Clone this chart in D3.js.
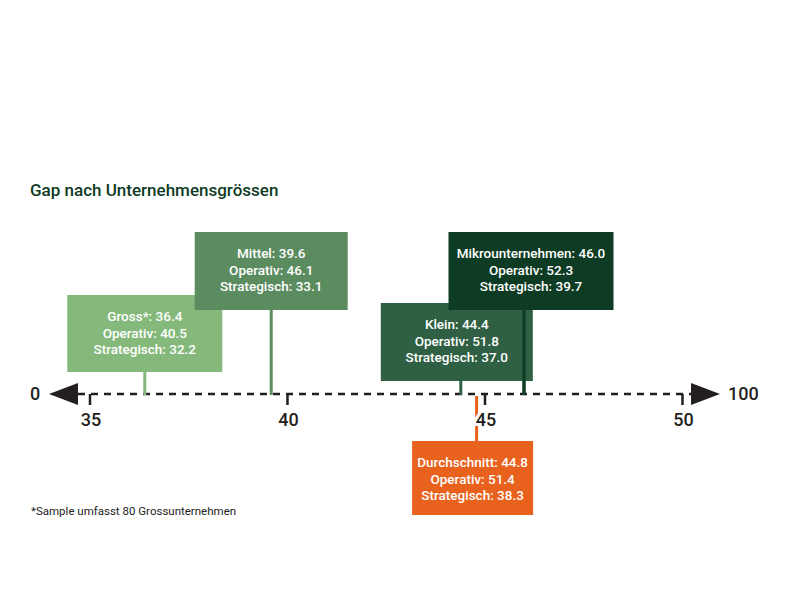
<!DOCTYPE html>
<html>
<head>
<meta charset="utf-8">
<script src="https://cdn.jsdelivr.net/npm/d3@7"></script>
<style>
  body { margin: 0; background: #fff; }
  svg { display: block; font-family: Roboto, "Liberation Sans", sans-serif; }
</style>
</head>
<body>
<div id="chart"></div>
<script>
// values
var groups = ["Gross*", "Mittel", "Klein", "Mikrounternehmen", "Durchschnitt"];
var gapValues = [36.4, 39.6, 44.4, 46.0, 44.8];
var operativValues = [40.5, 46.1, 51.8, 52.3, 51.4];
var strategischValues = [32.2, 33.1, 37.0, 39.7, 38.3];
var tickValues = [35, 40, 45, 50];
var endLabels = ["0", "100"];

// box placement (top, width, height, shift from the marker), colours
var boxLayout = [
    {top: 295, w: 155, h: 77, dx: 0, color: "#84b97b"},
    {top: 232, w: 153, h: 78, dx: 0, color: "#5b8c5f"},
    {top: 303, w: 152, h: 78, dx: -4, color: "#2f6044"},
    {top: 232, w: 165, h: 78, dx: 7, color: "#0d3b23"},
    {top: 441, w: 121, h: 74, dx: -4, color: "#e8611d"}
];

var width = 790, height = 593;
var axisY = 394;

var svg = d3.select("#chart").append("svg")
    .attr("width", width)
    .attr("height", height);

var x = d3.scaleLinear().domain([35, 50]).range([89.5, 682]);

// title
svg.append("text")
    .attr("x", 30)
    .attr("y", 196)
    .attr("fill", "#0d3b23")
    .style("font-size", "17px")
    .style("font-weight", 500)
    .text("Gap nach Unternehmensgrössen");

// footnote
svg.append("text")
    .attr("x", 31)
    .attr("y", 515)
    .attr("fill", "#222")
    .style("font-size", "11.5px")
    .text("*Sample umfasst 80 Grossunternehmen");

var rows = groups.map(function(g, i){
    return {
        name: g,
        gap: gapValues[i],
        op: operativValues[i],
        st: strategischValues[i],
        lay: boxLayout[i]
    };
});

// dashed axis line
svg.append("line")
    .attr("x1", 78)
    .attr("x2", 691)
    .attr("y1", axisY)
    .attr("y2", axisY)
    .attr("stroke", "#231f20")
    .attr("stroke-width", 2.5)
    .attr("stroke-dasharray", "7,6");

// axis ticks + labels
var axis = svg.append("g")
    .attr("transform", "translate(0," + axisY + ")")
    .call(d3.axisBottom(x).tickValues(tickValues).tickSize(11).tickPadding(8));

axis.select(".domain").remove();
axis.selectAll(".tick line")
    .attr("stroke", "#231f20")
    .attr("stroke-width", 2.5);
axis.selectAll(".tick text")
    .attr("fill", "#231f20")
    .attr("dy", "0.71em")
    .attr("x", 1)
    .style("font-family", "Roboto, sans-serif")
    .style("font-size", "18px")
    .style("font-weight", 500);

// stems
var stems = svg.append("g");
stems.selectAll("line")
    .data(rows)
    .enter().append("line")
    .attr("x1", function(d){ return x(d.gap); })
    .attr("x2", function(d){ return x(d.gap); })
    .attr("y1", function(d){ return d.lay.top > axisY ? axisY + 2 : d.lay.top + d.lay.h; })
    .attr("y2", function(d){ return d.lay.top > axisY ? d.lay.top : axisY + 1; })
    .attr("stroke", function(d){ return d.lay.color; })
    .attr("stroke-width", 3);

var boxes = svg.append("g").selectAll("g")
    .data(rows)
    .enter().append("g")
    .attr("transform", function(d){
        return "translate(" + (x(d.gap) + d.lay.dx - d.lay.w / 2) + "," + d.lay.top + ")";
    });

boxes.append("rect")
    .attr("width", function(d){ return d.lay.w; })
    .attr("height", function(d){ return d.lay.h; })
    .attr("fill", function(d){ return d.lay.color; });

boxes.each(function(d){
    var g = d3.select(this);
    var lines = [
        d.name + ": " + d.gap.toFixed(1),
        "Operativ: " + d.op.toFixed(1),
        "Strategisch: " + d.st.toFixed(1)
    ];
    g.selectAll("text")
        .data(lines)
        .enter().append("text")
        .attr("x", d.lay.w / 2)
        .attr("y", function(t, i){ return 26 + i * 16.5; })
        .attr("text-anchor", "middle")
        .attr("fill", "#fff")
        .style("font-size", "13.5px")
        .style("font-weight", 500)
        .text(function(t){ return t; });
});

// Mikro stem runs over the Klein box
svg.append("line")
    .attr("x1", x(gapValues[3]))
    .attr("x2", x(gapValues[3]))
    .attr("y1", boxLayout[3].top + boxLayout[3].h)
    .attr("y2", axisY + 1)
    .attr("stroke", boxLayout[3].color)
    .attr("stroke-width", 3);

// white halo on the tick labels cuts the orange stem like in the print
axis.raise();
axis.selectAll(".tick text")
    .attr("stroke", "#fff")
    .attr("stroke-width", 6)
    .attr("paint-order", "stroke");

// arrow heads
var arrows = svg.append("g").attr("fill", "#231f20");
arrows.append("path").attr("d", "M49," + axisY + "L78," + (axisY - 11) + "L78," + (axisY + 11) + "Z");
arrows.append("path").attr("d", "M720," + axisY + "L691," + (axisY - 11) + "L691," + (axisY + 11) + "Z");

svg.append("text")
    .attr("x", 35)
    .attr("y", axisY + 6)
    .attr("text-anchor", "middle")
    .attr("fill", "#231f20")
    .style("font-size", "18px")
    .style("font-weight", 500)
    .text(endLabels[0]);

svg.append("text")
    .attr("x", 728)
    .attr("y", axisY + 6)
    .attr("fill", "#231f20")
    .style("font-size", "18px")
    .style("font-weight", 500)
    .text(endLabels[1]);
</script>
</body>
</html>
